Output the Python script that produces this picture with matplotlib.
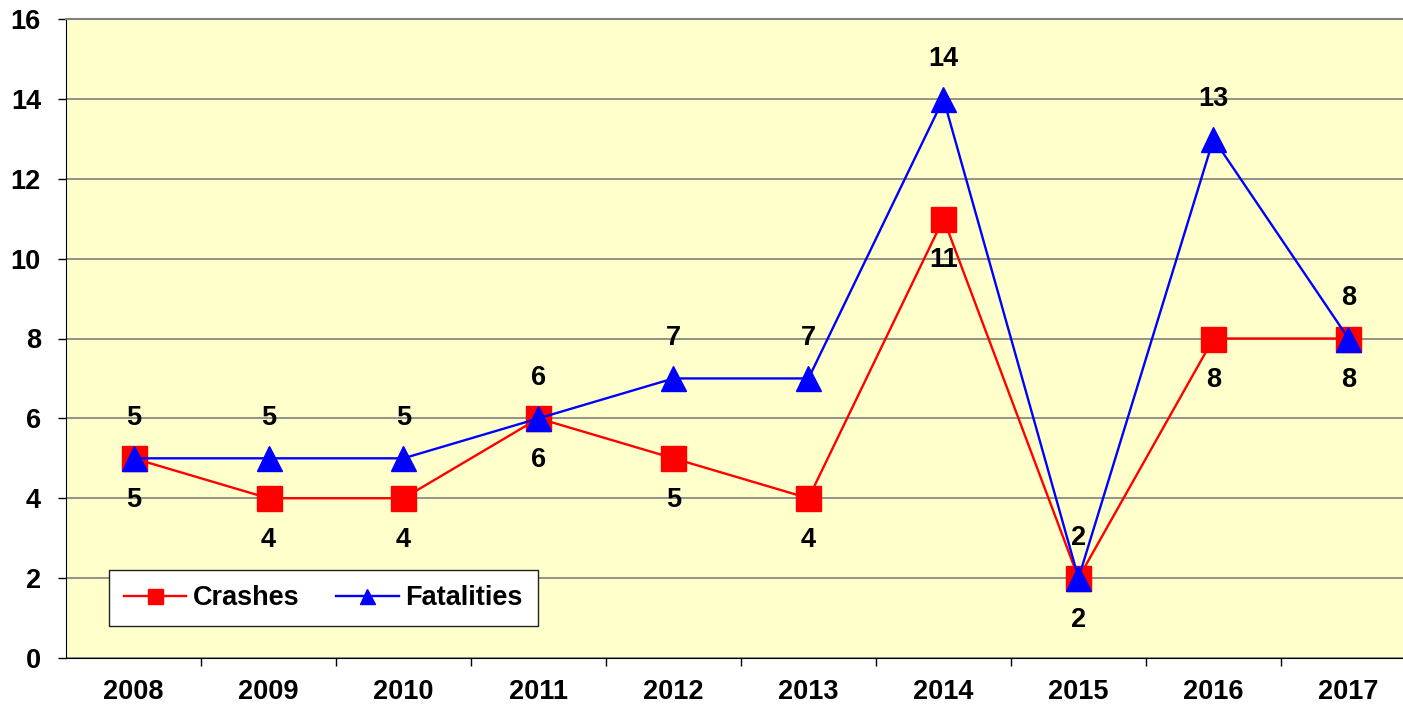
"""Crashes and fatalities by year"""
import matplotlib.pyplot as plt

years = ['2008', '2009', '2010', '2011', '2012', '2013', '2014', '2015', '2016', '2017']
crashes = [5, 4, 4, 6, 5, 4, 11, 2, 8, 8]
fatalities = [5, 5, 5, 6, 7, 7, 14, 2, 13, 8]

plt.rcParams['font.family'] = ['Liberation Sans', 'DejaVu Sans']
plt.rcParams['font.weight'] = 'bold'


def main():
    fig = plt.figure(figsize=(14.03, 7.04), dpi=100)
    ax = fig.add_axes([66 / 1403, 46 / 704, 1350 / 1403, 639 / 704])
    ax.set_facecolor('#FFFFCC')

    x = list(range(len(years)))
    ax.plot(x, crashes, color='#FF0000', lw=1.7, marker='s', ms=18,
            mfc='#FF0000', mec='#FF0000', label='Crashes', zorder=3)
    ax.plot(x, fatalities, color='#0000FF', lw=1.7, marker='^', ms=18,
            mfc='#0000FF', mec='#0000FF', label='Fatalities', zorder=4)

    fs = 19.5
    for xi, c, f in zip(x, crashes, fatalities):
        ax.annotate(str(c), (xi, c), xytext=(0, -30), textcoords='offset points',
                    ha='center', va='center', fontsize=fs, fontweight='bold')
        ax.annotate(str(f), (xi, f), xytext=(0, 29), textcoords='offset points',
                    ha='center', va='center', fontsize=fs, fontweight='bold')

    ax.set_xlim(-0.5, len(years) - 0.5)
    ax.set_ylim(0, 16)
    ax.set_yticks(range(0, 17, 2))
    ax.yaxis.grid(True, color='#808080', lw=1.2)
    ax.set_axisbelow(True)

    ax.set_xticks(x)
    ax.set_xticklabels(years)
    ax.set_xticks([i + 0.5 for i in x[:-1]], minor=True)
    ax.tick_params(axis='x', which='major', length=0, pad=15, labelsize=fs)
    ax.tick_params(axis='x', which='minor', length=6, width=1, color='black')
    ax.tick_params(axis='y', length=6, width=1, labelsize=fs, pad=12)

    ax.spines['top'].set_color('#808080')
    ax.spines['top'].set_linewidth(1.5)
    ax.spines['right'].set_visible(False)
    ax.spines['left'].set_color('black')
    ax.spines['bottom'].set_color('black')

    leg = ax.legend(loc='lower left', bbox_to_anchor=(0.032, 0.05), ncol=2,
                    prop={'weight': 'bold', 'size': fs},
                    frameon=True, fancybox=False, handlelength=2.3,
                    handletextpad=0.25, columnspacing=1.35, borderpad=0.55,
                    borderaxespad=0, markerscale=0.6)
    leg.get_frame().set_edgecolor('#222222')
    leg.get_frame().set_facecolor('white')
    leg.get_frame().set_alpha(1)

    fig.savefig('out.png', dpi=100)


if __name__ == "__main__":
    main()
